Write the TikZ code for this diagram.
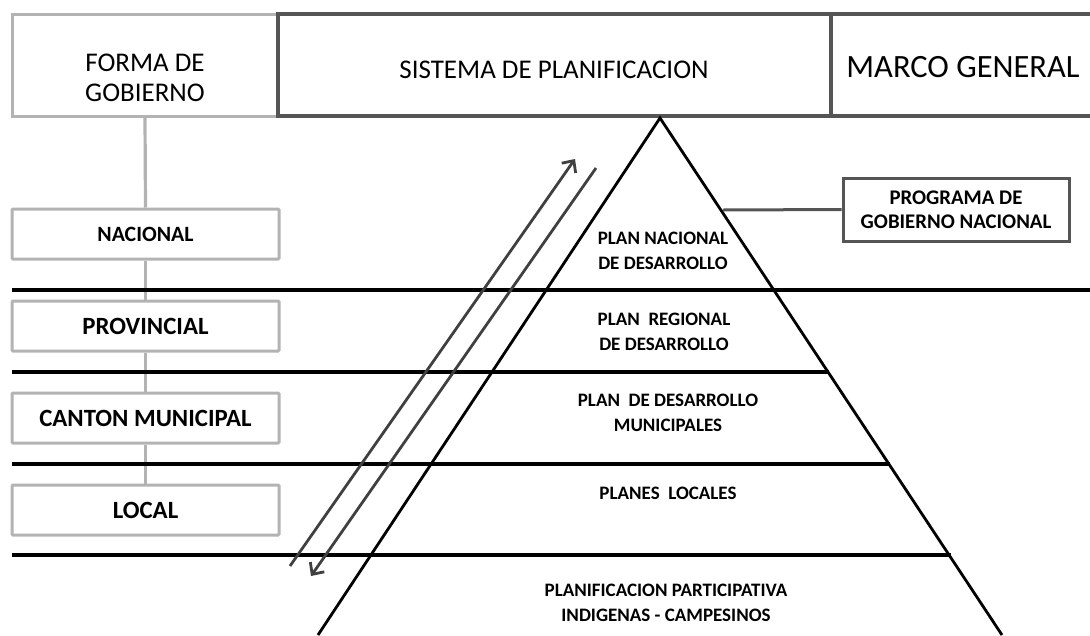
\documentclass[tikz,border=0pt]{standalone}
\usepackage{fontspec}
\setmainfont{Carlito}
\usetikzlibrary{arrows.meta,calc}
\definecolor{lightbox}{HTML}{B3B3B3}
\definecolor{darkbox}{HTML}{555555}
\definecolor{arrowgray}{HTML}{404040}
\begin{document}
\begin{tikzpicture}[x=1pt,y=-1pt,
  hdrlight/.style={draw=lightbox,line width=3pt,inner sep=0pt,minimum height=102pt},
  hdrdark/.style={draw=darkbox,line width=3.2pt,inner sep=0pt,minimum height=102pt},
  hdrtext/.style={align=center,inner sep=0pt,font=\fontsize{27}{30}\selectfont},
  levelbox/.style={draw=lightbox,line width=3pt,rounded corners=1pt,inner sep=0pt,minimum width=267pt,minimum height=50pt,font=\bfseries\fontsize{24.8}{28}\selectfont},
  pyrtext/.style={align=center,inner sep=0pt,font=\bfseries\fontsize{19}{24.5}\selectfont},
  band/.style={draw=black,line width=3.3pt},
  pyr/.style={draw=black,line width=2.8pt},
  flow/.style={draw=arrowgray,line width=2.8pt,-{Straight Barb[length=9pt,width=17pt,line width=2.8pt]}},
  link/.style={draw=lightbox,line width=3.2pt},
  prog/.style={draw=darkbox,line width=3pt,inner sep=0pt,minimum width=226pt,minimum height=63pt,align=center,font=\bfseries\fontsize{20.8}{24.5}\selectfont}
]
\useasboundingbox (0,0) rectangle (1090,635);
\clip (0,0) rectangle (1090,635);

% header
\node[hdrlight,minimum width=266pt] (forma) at (145,65) {};
\node[hdrdark,minimum width=553pt] (sistema) at (554.5,65) {};
\node[hdrdark,minimum width=262pt] (marco) at (962,65) {};
\node[hdrtext] (formaT) at (145,78) {FORMA DE\\GOBIERNO};
\node[hdrtext] (sistemaT) at (554,70) {SISTEMA DE PLANIFICACION};
\node[hdrtext,font=\fontsize{32.5}{34}\selectfont] (marcoT) at (963,67) {MARCO GENERAL};

% level boxes
\node[levelbox,font=\bfseries\fontsize{21.8}{24}\selectfont] (nac) at (145.5,234) {NACIONAL};
\node[levelbox] (prov) at (145.5,326) {PROVINCIAL};
\node[levelbox] (canton) at (145.5,418) {CANTON MUNICIPAL};
\node[levelbox] (local) at (145.5,510) {LOCAL};

% gray links
\draw[link] (forma.south) -- (nac.north);
\draw[link] (nac.south) -- (prov.north);
\draw[link] (prov.south) -- (canton.north);
\draw[link] (canton.south) -- (local.north);

% pyramid
\coordinate (apex) at (660,118);
\coordinate (bl) at (318,635);
\coordinate (br) at (1002,635);
\draw[pyr] (bl) -- (apex) -- (br);

% bands
\coordinate (b1l) at (12,290);  \coordinate (b1r) at (1092,290);
\coordinate (b2l) at (12,372);  \coordinate (b2r) at (829,372);
\coordinate (b3l) at (12,464);  \coordinate (b3r) at (890,464);
\coordinate (b4l) at (12,555);  \coordinate (b4r) at (951,555);
\draw[band] (b1l) -- (b1r);
\draw[band] (b2l) -- (b2r);
\draw[band] (b3l) -- (b3r);
\draw[band] (b4l) -- (b4r);

% arrows
\coordinate (upS) at (290,566);
\coordinate (upE) at (575,159);
\coordinate (dnS) at (596,168);
\coordinate (dnE) at (311,576);
\draw[flow] (upS) -- (upE);
\draw[flow] (dnS) -- (dnE);

% programa
\node[prog] (programa) at (956,209.5) {PROGRAMA DE\\GOBIERNO NACIONAL};
\coordinate (progL) at (723,210);
\draw[draw=darkbox,line width=3pt] (progL) -- (programa.west);

% pyramid texts
\node[pyrtext] (p1) at (663,251) {PLAN NACIONAL\\DE DESARROLLO};
\node[pyrtext] (p2) at (664,332) {PLAN\ \ REGIONAL\\DE DESARROLLO};
\node[pyrtext] (p3) at (668,413) {PLAN\ \ DE DESARROLLO\\MUNICIPALES};
\node[pyrtext] (p4) at (668,493) {PLANES\ \ LOCALES};
\node[pyrtext] (p5) at (666,603) {PLANIFICACION PARTICIPATIVA\\INDIGENAS - CAMPESINOS};
\end{tikzpicture}
\end{document}
